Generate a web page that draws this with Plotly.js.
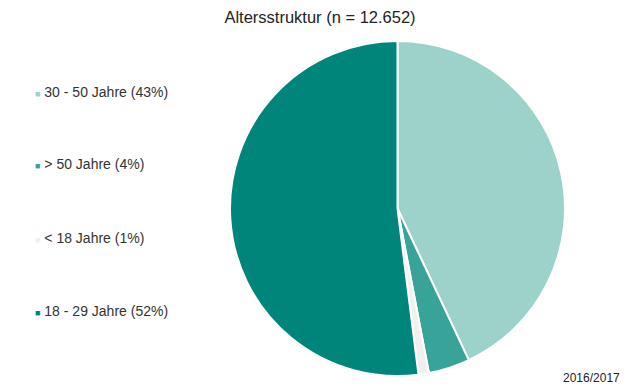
<!DOCTYPE html>
<html><head><meta charset="utf-8">
<script src="https://cdn.plot.ly/plotly-3.0.1.min.js"></script>
<style>html,body{margin:0;padding:0;background:#fff}#chart{width:640px;height:388px}</style>
</head><body><div id="chart"></div>
<script>
const labels = ["30 - 50 Jahre", "> 50 Jahre", "< 18 Jahre", "18 - 29 Jahre"];
const values = [43, 4, 1, 52];
const colors = ["#9dd2cb", "#38a399", "#f0f0f0", "#00857a"];
const titleText = "Altersstruktur (n = 12.652)";
const footText = "2016/2017";

const legendY = [92, 164, 238, 311];
const annotations = labels.map((l, i) => ({
  xref: "paper", yref: "paper", x: 33/640, y: 1 - legendY[i]/388,
  xanchor: "left", yanchor: "middle", showarrow: false,
  text: `<span style="color:${colors[i]};font-size:9px">■</span> ${l} (${values[i]}%)`,
  font: {family: "Liberation Sans, Arial, sans-serif", size: 14, color: "#333333"}
}));
annotations.push({
  xref: "paper", yref: "paper", x: 591/640, y: 1 - 378/388,
  xanchor: "center", yanchor: "middle", showarrow: false, text: footText,
  font: {family: "Liberation Sans, Arial, sans-serif", size: 12, color: "#222222"}
});

Plotly.newPlot("chart", [{
  type: "pie", labels: labels, values: values, sort: false,
  direction: "clockwise", rotation: 0,
  marker: {colors: colors, line: {color: "#ffffff", width: 2}},
  textinfo: "none", hoverinfo: "label+percent",
  domain: {x: [230/640, 565/640], y: [1 - 376/388, 1 - 41/388]}
}], {
  width: 640, height: 388, margin: {l: 0, r: 0, t: 0, b: 0},
  paper_bgcolor: "#ffffff", showlegend: false,
  title: {text: titleText, x: 320/640, xanchor: "center", y: 1 - 17/388, yanchor: "middle",
    font: {family: "Liberation Sans, Arial, sans-serif", size: 16.5, color: "#222222"}},
  annotations: annotations
}, {displayModeBar: false, staticPlot: true});
</script></body></html>
